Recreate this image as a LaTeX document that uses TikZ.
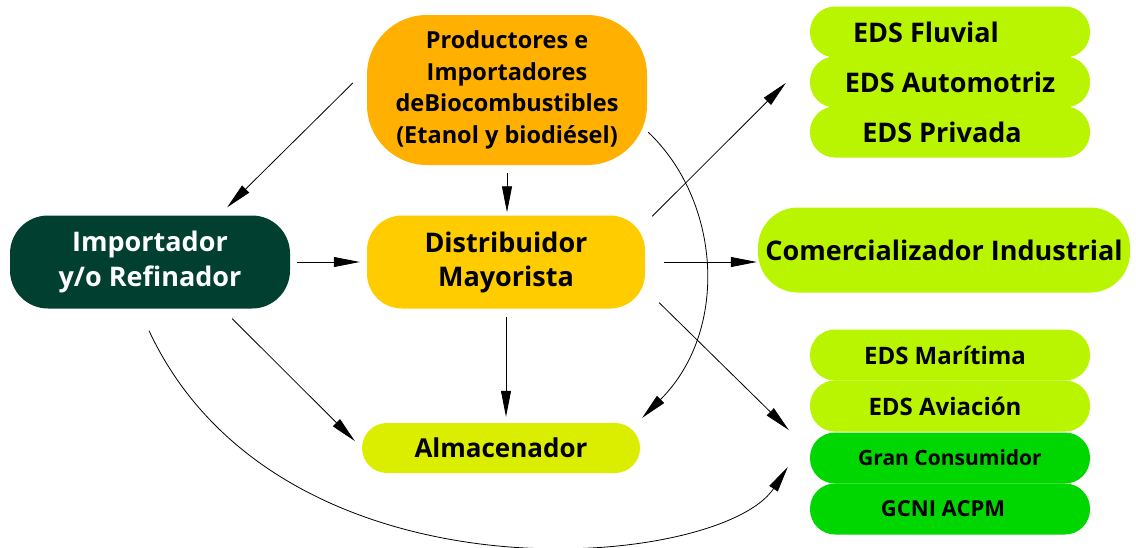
\documentclass[tikz,border=0pt]{standalone}
\usepackage{fontspec}
\setmainfont{Open Sans}
\usetikzlibrary{arrows.meta}
\definecolor{prodorange}{HTML}{FFB000}
\definecolor{impgreen}{HTML}{013F30}
\definecolor{distyellow}{HTML}{FFCC00}
\definecolor{almyellow}{HTML}{DCEE00}
\definecolor{edslime}{HTML}{B9F500}
\definecolor{gcgreen}{HTML}{00D600}
\tikzset{
  pill/.style={rounded corners=#1, inner sep=0pt, align=center, font=\bfseries},
  pill/.default=25pt,
  edsbox/.style={pill, fill=edslime, minimum width=280pt, minimum height=51pt},
  gcbox/.style={pill, fill=gcgreen, minimum width=280pt, minimum height=51pt},
  flow/.style={-{Triangle[length=26pt,width=10pt]}, line width=0.8pt}
}
\begin{document}
\begin{tikzpicture}[x=1pt,y=-1pt]
  \useasboundingbox (0,0) rectangle (1136,547);

  \node[pill=60pt, fill=prodorange, minimum width=280pt, minimum height=150pt,
        font=\bfseries\fontsize{23.5}{31.5}\selectfont] (prod) at (507,90)
        {Productores e\\Importadores\\deBiocombustibles\\(Etanol y biodiésel)};
  \node[pill=38pt, fill=impgreen, text=white, minimum width=280pt, minimum height=93pt,
        font=\bfseries\fontsize{27}{35}\selectfont] (imp) at (150,262)
        {Importador\\y/o Refinador};
  \node[pill=35pt, fill=distyellow, minimum width=278pt, minimum height=93pt,
        font=\bfseries\fontsize{27}{34}\selectfont] (dist) at (506,262)
        {Distribuidor\\Mayorista};
  \node[pill, fill=almyellow, minimum width=278pt, minimum height=50pt,
        font=\bfseries\fontsize{26}{30}\selectfont] (alm) at (501,448) {Almacenador};
  \node[pill=40pt, fill=edslime, minimum width=372pt, minimum height=85pt,
        font=\bfseries\fontsize{27}{30}\selectfont] (com) at (944,250) {Comercializador Industrial};

  \node[edsbox, font=\bfseries\fontsize{27}{30}\selectfont] (fluv) at (950,32) {\hspace*{-48pt}EDS Fluvial};
  \node[edsbox, font=\bfseries\fontsize{27}{30}\selectfont] (auto) at (950,82) {EDS Automotriz};
  \node[edsbox, font=\bfseries\fontsize{27}{30}\selectfont] (priv) at (950,132) {\hspace*{-16pt}EDS Privada};

  \node[edsbox, font=\bfseries\fontsize{24}{28}\selectfont] (mari) at (950,355) {\hspace*{-10pt}EDS Marítima};
  \node[edsbox, font=\bfseries\fontsize{24}{28}\selectfont] (avia) at (950,406) {\hspace*{-10pt}EDS Aviación};
  \node[gcbox, font=\bfseries\fontsize{21}{26}\selectfont] (gran) at (950,458) {Gran Consumidor};
  \node[gcbox, font=\bfseries\fontsize{22}{26}\selectfont] (gcni) at (950,509) {\hspace*{-14pt}GCNI ACPM};

  \draw[flow] ([shift={(-14,-7)}]prod.west) -- ([shift={(-63,-8)}]imp.north east);
  \draw[flow] ([shift={(0,8)}]prod.south) -- ([shift={(1,-3)}]dist.north);
  \draw[flow] ([shift={(7,0)}]imp.east) -- ([shift={(-7,0)}]dist.west);
  \draw[flow, shorten <=19pt, shorten >=1pt] (dist.east) -- (dist.east -| com.west);
  \draw[flow] ([shift={(7,1)}]dist.north east) -- ([shift={(-24,1)}]auto.west);
  \draw[flow] ([shift={(14,-6)}]dist.south east) -- ([shift={(-21,-28)}]gran.west);
  \draw[flow, shorten <=8pt, shorten >=6pt] (dist.south) -- (dist.south |- alm.north);
  \draw[flow] ([shift={(-58,10)}]imp.south east) -- ([shift={(-7,-7)}]alm.west);

  \draw[flow] ([shift={(1,-33)}]prod.south east) .. controls +(72,68) and +(88,-88) .. ([shift={(2,-5)}]alm.north east);
  \draw[flow] ([shift={(-1,22)}]imp.south) .. controls +(131,280) and +(-68,103) .. ([shift={(-22,9)}]gran.west);

\end{tikzpicture}
\end{document}
